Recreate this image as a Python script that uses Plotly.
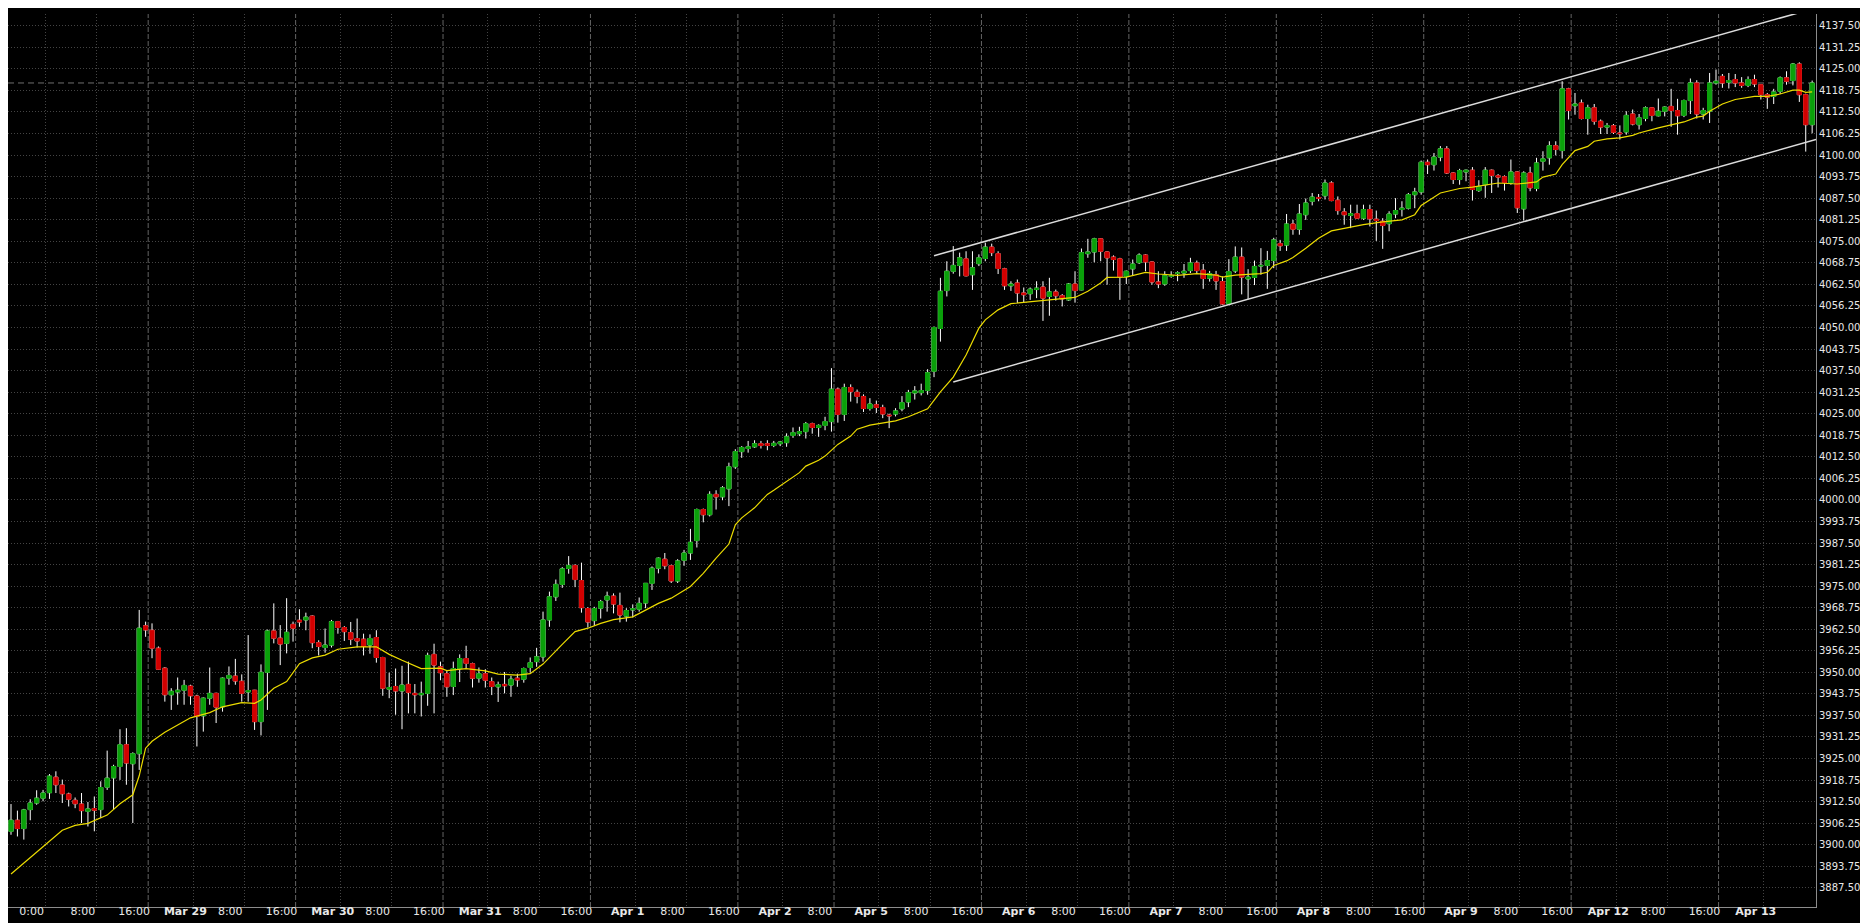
import plotly.graph_objects as go

# ---------------- data ----------------
session_dates = ["Mar 26", "Mar 29", "Mar 30", "Mar 31", "Apr 1", "Apr 2", "Apr 5",
                 "Apr 6", "Apr 7", "Apr 8", "Apr 9", "Apr 12", "Apr 13"]
session_first_hour = [2, 1, 1, 1, 1, 1, 1, 1, 1, 1, 1, 1, 1]
session_bar_count = [22, 23, 23, 23, 23, 15, 23, 23, 23, 23, 23, 23, 15]

opens = [
    3903.9, 3907.1, 3904.7, 3910.2, 3912.1, 3913.5, 3915.1, 3919.6, 3917.3, 3914.7,
    3912.9, 3911.8, 3909.7, 3910.5, 3910.2, 3916.7, 3919.4, 3922.7, 3929.0, 3923.5,
    3926.4, 3963.5, 3962.2, 3957.0, 3951.2, 3943.5, 3944.3, 3944.8, 3946.0, 3943.1,
    3937.4, 3942.5, 3943.9, 3940.0, 3948.3, 3948.9, 3947.4, 3944.3, 3944.8, 3935.7,
    3950.0, 3962.0, 3959.9, 3958.4, 3963.9, 3965.1, 3965.2, 3966.3, 3958.6, 3957.2,
    3957.9, 3964.7, 3963.0, 3961.5, 3959.8, 3959.6, 3957.9, 3960.1, 3954.3, 3945.1,
    3945.9, 3944.6, 3946.5, 3943.9, 3943.5, 3943.9, 3955.2, 3951.6, 3949.6, 3945.9,
    3951.1, 3954.0, 3952.5, 3948.3, 3949.6, 3947.3, 3945.8, 3946.5, 3946.3, 3948.3,
    3948.0, 3951.4, 3953.1, 3954.5, 3965.2, 3971.9, 3975.5, 3980.1, 3981.0, 3976.6,
    3968.5, 3965.0, 3968.6, 3971.0, 3972.1, 3969.4, 3966.3, 3968.1, 3968.3, 3970.1,
    3975.8, 3980.2, 3982.8, 3980.9, 3976.5, 3982.5, 3984.6, 3988.2, 3997.2, 3995.7,
    4001.6, 4000.9, 4003.2, 4009.6, 4014.0, 4014.9, 4015.4, 4016.3, 4016.3, 4015.8,
    4016.3, 4016.6, 4018.7, 4019.2, 4019.8, 4022.1, 4021.0, 4021.6, 4022.7, 4032.1,
    4024.8, 4032.6, 4031.2, 4030.0, 4026.5, 4027.6, 4026.8, 4024.6, 4024.9, 4026.4,
    4028.4, 4031.0, 4031.1, 4031.7, 4037.3, 4049.7, 4060.7, 4066.3, 4068.0, 4069.9,
    4065.3, 4068.5, 4070.0, 4073.3, 4071.4, 4067.0, 4062.1, 4062.9, 4060.0, 4059.8,
    4061.0, 4061.7, 4059.0, 4060.3, 4059.2, 4058.0, 4062.6, 4060.9, 4071.4, 4071.9,
    4075.7, 4071.9, 4070.4, 4069.9, 4064.8, 4067.0, 4068.8, 4071.0, 4069.0, 4063.2,
    4062.6, 4064.8, 4065.7, 4065.8, 4066.5, 4068.7, 4066.6, 4064.3, 4065.3, 4063.3,
    4056.8, 4066.4, 4070.4, 4064.1, 4064.5, 4067.8, 4068.0, 4069.4, 4074.3, 4073.9,
    4080.0, 4078.5, 4082.7, 4086.6, 4087.7, 4088.2, 4091.9, 4086.9, 4083.5, 4082.5,
    4083.0, 4081.7, 4084.2, 4081.4, 4080.8, 4080.1, 4082.9, 4084.2, 4084.6, 4088.5,
    4089.3, 4097.9, 4097.2, 4099.4, 4101.8, 4094.8, 4092.9, 4095.1, 4095.6, 4089.7,
    4091.4, 4095.6, 4094.0, 4093.7, 4091.9, 4095.1, 4084.4, 4094.8, 4090.3, 4098.2,
    4099.2, 4102.7, 4101.3, 4119.2, 4114.3, 4115.1, 4110.6, 4113.7, 4109.8, 4108.1,
    4108.5, 4106.4, 4106.7, 4111.9, 4108.8, 4110.6, 4113.7, 4111.4, 4112.7, 4114.1,
    4112.9, 4111.5, 4115.8, 4120.9, 4111.9, 4112.7, 4120.9, 4122.8, 4121.1, 4121.9,
    4120.9, 4120.2, 4121.9, 4120.4, 4117.5, 4117.0, 4118.5, 4122.4, 4121.6, 4126.4,
    4117.5, 4108.8,
]
highs = [
    3911.8, 3909.9, 3910.4, 3913.2, 3915.8, 3915.9, 3920.5, 3921.3, 3918.9, 3915.1,
    3913.7, 3915.0, 3912.4, 3914.0, 3918.4, 3927.3, 3923.2, 3933.5, 3933.8, 3926.8,
    3968.1, 3964.7, 3964.2, 3957.5, 3951.5, 3945.4, 3948.5, 3947.8, 3946.4, 3943.5,
    3942.7, 3951.4, 3944.1, 3948.5, 3951.7, 3953.9, 3949.4, 3960.8, 3944.9, 3952.3,
    3962.4, 3970.0, 3963.7, 3971.5, 3964.7, 3968.3, 3967.3, 3966.5, 3959.3, 3962.7,
    3965.2, 3964.9, 3963.4, 3964.6, 3965.6, 3961.2, 3961.0, 3962.2, 3954.5, 3949.9,
    3951.1, 3951.9, 3953.1, 3946.6, 3947.3, 3955.7, 3958.3, 3953.1, 3950.4, 3953.1,
    3955.2, 3957.7, 3952.8, 3951.4, 3950.9, 3948.5, 3947.3, 3950.1, 3949.0, 3949.6,
    3951.4, 3954.3, 3957.1, 3967.6, 3973.4, 3976.9, 3980.5, 3983.7, 3981.3, 3981.8,
    3968.9, 3969.0, 3971.0, 3973.4, 3972.9, 3973.1, 3968.6, 3969.7, 3971.7, 3975.9,
    3980.7, 3983.3, 3984.6, 3981.2, 3982.8, 3985.5, 3991.6, 3997.5, 3997.5, 4002.5,
    4002.8, 4004.0, 4010.8, 4014.7, 4015.6, 4017.1, 4017.3, 4017.1, 4017.3, 4017.1,
    4017.1, 4019.3, 4021.0, 4021.2, 4022.6, 4022.4, 4021.9, 4024.1, 4038.2, 4032.6,
    4033.7, 4033.5, 4032.0, 4030.6, 4029.5, 4028.8, 4027.6, 4025.0, 4026.6, 4030.1,
    4031.9, 4033.0, 4033.7, 4037.9, 4050.3, 4064.4, 4069.2, 4073.6, 4071.7, 4072.1,
    4072.1, 4071.2, 4074.6, 4074.3, 4072.1, 4067.3, 4063.4, 4063.9, 4061.6, 4061.6,
    4063.4, 4063.4, 4064.4, 4061.0, 4059.7, 4062.9, 4066.3, 4072.9, 4075.7, 4076.0,
    4075.9, 4072.1, 4070.9, 4070.2, 4066.5, 4069.7, 4071.5, 4071.2, 4069.2, 4066.3,
    4066.3, 4066.3, 4066.3, 4068.4, 4070.2, 4069.4, 4068.4, 4066.4, 4066.4, 4064.8,
    4069.8, 4073.5, 4073.2, 4066.9, 4069.4, 4073.0, 4072.2, 4076.0, 4075.4, 4082.9,
    4081.2, 4085.8, 4087.4, 4089.0, 4088.7, 4092.9, 4092.4, 4088.0, 4084.6, 4085.6,
    4085.6, 4085.6, 4085.6, 4083.9, 4081.7, 4083.7, 4087.5, 4086.6, 4089.0, 4090.5,
    4098.4, 4098.7, 4100.6, 4102.6, 4102.6, 4095.0, 4096.0, 4095.8, 4096.5, 4092.7,
    4096.5, 4095.8, 4094.5, 4094.1, 4098.7, 4095.3, 4095.3, 4096.6, 4099.2, 4101.1,
    4104.0, 4104.0, 4121.4, 4119.5, 4118.0, 4116.1, 4114.6, 4114.8, 4110.3, 4109.3,
    4109.0, 4108.6, 4112.7, 4113.2, 4111.9, 4114.1, 4113.9, 4116.4, 4114.1, 4119.2,
    4116.3, 4116.1, 4122.2, 4121.7, 4113.7, 4123.8, 4124.8, 4123.5, 4123.8, 4123.5,
    4122.6, 4122.8, 4123.3, 4120.6, 4118.0, 4119.2, 4122.8, 4124.3, 4126.7, 4126.9,
    4117.8, 4121.6,
]
lows = [
    3902.9, 3902.4, 3901.5, 3907.1, 3911.6, 3912.6, 3913.3, 3915.0, 3912.1, 3911.1,
    3910.6, 3906.3, 3905.3, 3903.9, 3907.8, 3915.9, 3910.2, 3918.8, 3917.4, 3906.3,
    3921.7, 3960.3, 3954.1, 3950.7, 3941.5, 3939.1, 3940.6, 3940.6, 3940.6, 3928.5,
    3932.8, 3940.6, 3935.3, 3938.6, 3946.4, 3946.4, 3941.5, 3941.5, 3933.3, 3931.7,
    3939.1, 3958.4, 3952.1, 3955.5, 3958.9, 3963.2, 3962.2, 3957.0, 3954.9, 3955.7,
    3957.2, 3961.2, 3959.1, 3957.9, 3957.2, 3954.9, 3955.4, 3952.8, 3943.2, 3942.5,
    3937.7, 3933.5, 3938.1, 3938.1, 3937.2, 3940.3, 3938.1, 3947.7, 3942.9, 3943.4,
    3947.2, 3951.1, 3945.6, 3947.0, 3945.6, 3943.4, 3941.4, 3943.9, 3942.9, 3945.8,
    3947.0, 3949.9, 3951.6, 3953.1, 3963.2, 3970.7, 3974.5, 3978.6, 3974.7, 3967.3,
    3963.0, 3963.5, 3965.6, 3967.6, 3967.1, 3964.5, 3964.7, 3965.9, 3967.6, 3968.6,
    3973.9, 3978.7, 3979.9, 3975.9, 3975.9, 3980.9, 3982.6, 3986.2, 3993.5, 3995.2,
    3997.2, 3999.9, 3998.2, 4009.0, 4012.2, 4013.7, 4015.1, 4014.9, 4014.4, 4015.3,
    4015.6, 4015.4, 4018.0, 4018.5, 4017.8, 4019.2, 4018.3, 4020.2, 4019.8, 4022.4,
    4022.9, 4028.5, 4028.0, 4025.5, 4025.9, 4025.2, 4023.7, 4020.8, 4024.2, 4025.7,
    4026.9, 4029.1, 4030.3, 4030.5, 4035.6, 4045.9, 4059.0, 4065.6, 4064.8, 4064.8,
    4060.9, 4067.8, 4069.2, 4070.7, 4065.5, 4060.9, 4060.6, 4057.1, 4057.3, 4058.0,
    4058.5, 4051.9, 4053.4, 4057.8, 4056.1, 4057.7, 4057.2, 4060.8, 4070.2, 4068.9,
    4069.2, 4062.4, 4066.5, 4058.0, 4062.6, 4065.1, 4068.4, 4066.3, 4062.4, 4061.4,
    4062.1, 4064.4, 4063.4, 4064.4, 4065.8, 4065.5, 4061.2, 4063.3, 4060.9, 4056.5,
    4056.5, 4065.8, 4059.6, 4058.2, 4062.3, 4065.3, 4061.2, 4067.2, 4072.2, 4072.2,
    4076.9, 4076.9, 4081.2, 4085.4, 4086.6, 4087.1, 4086.6, 4082.7, 4079.8, 4078.8,
    4081.5, 4081.2, 4079.3, 4075.1, 4072.8, 4077.9, 4081.7, 4082.2, 4084.2, 4084.6,
    4088.5, 4094.5, 4095.5, 4098.2, 4094.5, 4091.6, 4091.4, 4092.4, 4086.8, 4089.3,
    4087.6, 4089.0, 4090.6, 4089.7, 4091.4, 4083.2, 4081.0, 4089.5, 4089.5, 4095.5,
    4097.2, 4099.9, 4099.0, 4110.3, 4111.7, 4110.3, 4105.9, 4108.8, 4106.1, 4106.1,
    4106.1, 4104.5, 4105.9, 4108.6, 4107.4, 4109.8, 4109.8, 4111.2, 4111.2, 4108.2,
    4105.9, 4111.0, 4111.9, 4110.6, 4110.3, 4109.3, 4120.4, 4119.5, 4119.3, 4119.7,
    4119.5, 4119.7, 4119.7, 4116.1, 4113.4, 4114.8, 4117.7, 4120.4, 4120.2, 4115.4,
    4101.0, 4106.3,
]
closes = [
    3907.1, 3904.7, 3910.1, 3912.1, 3913.5, 3915.0, 3919.9, 3917.4, 3914.8, 3913.2,
    3911.9, 3909.9, 3910.4, 3910.0, 3916.6, 3919.3, 3922.7, 3929.0, 3923.7, 3926.4,
    3962.8, 3962.3, 3957.0, 3950.9, 3943.5, 3944.5, 3944.8, 3946.2, 3943.2, 3937.2,
    3942.5, 3943.9, 3939.9, 3948.3, 3949.1, 3947.5, 3943.9, 3944.7, 3935.7, 3950.0,
    3962.0, 3959.9, 3958.2, 3961.6, 3962.8, 3964.6, 3966.0, 3958.6, 3957.5, 3957.9,
    3964.7, 3963.0, 3961.8, 3959.6, 3959.1, 3957.5, 3959.8, 3954.3, 3945.4, 3945.6,
    3944.6, 3946.3, 3944.2, 3943.5, 3943.9, 3954.9, 3952.1, 3949.9, 3945.8, 3951.1,
    3954.0, 3952.6, 3948.3, 3949.6, 3947.7, 3945.9, 3946.4, 3946.1, 3948.0, 3947.8,
    3951.1, 3952.8, 3954.5, 3965.2, 3971.9, 3975.5, 3980.0, 3981.0, 3976.9, 3968.75,
    3964.6, 3968.5, 3970.5, 3972.1, 3969.8, 3966.6, 3967.9, 3968.4, 3970.0, 3975.8,
    3980.2, 3983.1, 3980.9, 3976.5, 3982.3, 3984.6, 3987.7, 3997.2, 3995.7, 4001.6,
    4000.9, 4003.5, 4009.6, 4014.0, 4015.2, 4015.4, 4016.3, 4015.8, 4015.8, 4016.4,
    4016.8, 4018.3, 4019.5, 4019.8, 4022.1, 4021.0, 4021.6, 4022.7, 4032.1, 4024.8,
    4032.6, 4031.4, 4030.0, 4026.5, 4027.8, 4026.8, 4024.9, 4024.4, 4025.8, 4028.2,
    4031.1, 4031.6, 4031.7, 4036.9, 4050.0, 4060.5, 4066.3, 4068.0, 4070.2, 4065.0,
    4067.3, 4070.2, 4073.3, 4071.7, 4067.1, 4062.1, 4062.6, 4060.0, 4059.5, 4061.1,
    4061.4, 4058.5, 4060.3, 4059.2, 4058.3, 4062.6, 4060.7, 4071.7, 4071.9, 4075.7,
    4072.1, 4070.2, 4069.7, 4064.6, 4066.3, 4068.4, 4071.0, 4069.0, 4063.2, 4062.6,
    4065.0, 4065.0, 4065.8, 4066.3, 4068.7, 4066.5, 4064.2, 4065.6, 4063.5, 4056.8,
    4066.2, 4070.4, 4064.6, 4064.6, 4067.7, 4068.0, 4069.4, 4075.4, 4073.7, 4080.0,
    4078.5, 4082.9, 4086.1, 4087.8, 4087.5, 4091.9, 4086.8, 4083.9, 4082.7, 4083.0,
    4081.7, 4084.2, 4081.5, 4081.0, 4079.6, 4082.9, 4083.9, 4084.6, 4088.5, 4089.3,
    4097.9, 4097.2, 4099.4, 4101.8, 4094.8, 4092.9, 4095.5, 4095.6, 4090.0, 4090.9,
    4095.6, 4094.1, 4093.6, 4092.0, 4095.1, 4084.7, 4094.8, 4090.5, 4097.7, 4098.9,
    4102.7, 4101.6, 4119.2, 4112.9, 4114.8, 4110.6, 4113.7, 4109.8, 4108.1, 4108.5,
    4106.6, 4106.2, 4111.5, 4109.0, 4110.8, 4113.7, 4111.5, 4112.7, 4113.9, 4112.9,
    4111.4, 4115.8, 4120.9, 4111.9, 4112.9, 4120.9, 4121.4, 4120.9, 4121.6, 4120.9,
    4120.2, 4121.9, 4120.6, 4117.5, 4116.8, 4118.3, 4122.4, 4121.4, 4126.4, 4117.5,
    4108.8, 4120.9,
]

# moving average (yellow line), read at these bars
ma_bar = [0, 5, 8, 10, 12, 15, 17, 19, 20, 21, 22, 24, 26, 28, 31, 33, 36, 38, 39, 41,
          43, 45, 47, 49, 51, 54, 57, 59, 61, 64, 67, 68, 71, 74, 76, 79, 81, 83, 86, 88,
          90, 92, 94, 97, 101, 103, 106, 108, 110, 112, 113, 114, 116, 118, 119, 121, 123,
          124, 126, 127, 129, 131, 132, 134, 136, 138, 140, 143, 145, 147, 149, 150, 151,
          152, 154, 156, 159, 162, 166, 168, 170, 171, 174, 177, 179, 182, 185, 188, 189,
          191, 195, 196, 197, 199, 200, 202, 204, 206, 208, 211, 214, 217, 219, 220, 223,
          226, 228, 230, 232, 235, 238, 239, 241, 242, 244, 246, 247, 249, 251, 253, 254,
          257, 259, 261, 263, 264, 265, 267, 269, 272, 274, 276, 278, 279, 280, 281]
ma_value = [3891.5, 3899.4, 3904.2, 3905.6, 3906.2, 3908.6, 3911.9, 3914.5, 3920.0, 3928.0,
            3930.0, 3932.6, 3934.7, 3936.8, 3938.3, 3940.0, 3941.2, 3941.0, 3942.0, 3945.4,
            3947.3, 3952.5, 3954.2, 3955.0, 3956.7, 3957.4, 3957.4, 3955.2, 3953.5, 3951.1,
            3951.2, 3950.5, 3951.1, 3950.4, 3949.5, 3949.2, 3949.6, 3952.4, 3958.1, 3961.8,
            3962.8, 3964.2, 3965.3, 3966.1, 3970.0, 3971.5, 3974.9, 3978.7, 3983.1, 3987.2,
            3992.8, 3994.8, 3997.7, 4001.6, 4002.8, 4005.4, 4007.9, 4009.8, 4011.5, 4012.7,
            4016.1, 4018.5, 4020.5, 4021.7, 4022.2, 4022.9, 4024.1, 4026.4, 4031.3, 4035.6,
            4042.0, 4045.9, 4049.8, 4052.2, 4055.1, 4056.9, 4057.5, 4058.0, 4058.7, 4060.5,
            4062.9, 4064.5, 4064.6, 4066.0, 4065.5, 4065.1, 4065.6, 4065.2, 4064.6, 4065.2,
            4065.6, 4066.0, 4068.0, 4069.3, 4070.3, 4073.0, 4075.9, 4078.0, 4078.8, 4079.8,
            4080.6, 4081.2, 4082.7, 4085.4, 4089.0, 4090.3, 4090.7, 4091.2, 4091.9, 4091.6,
            4092.2, 4093.6, 4094.5, 4097.2, 4101.3, 4102.5, 4104.0, 4104.7, 4105.0, 4105.7,
            4106.4, 4107.9, 4108.8, 4109.6, 4111.0, 4111.3, 4112.7, 4114.8, 4116.1, 4117.0,
            4117.0, 4117.7, 4118.8, 4118.8, 4118.2, 4118.3]

# equidistant channel: two anchor points of the upper line + anchor of the parallel line
channel_bars = [144, 232]
channel_prices = [4070.8, 4116.75]
channel_parallel_bar = 147
channel_parallel_price = 4034.2

# time-axis labels
tick_dates = ["Mar 26", "Mar 26", "Mar 26",
              "Mar 29", "Mar 29", "Mar 29",
              "Mar 30", "Mar 30", "Mar 30",
              "Mar 31", "Mar 31", "Mar 31",
              "Apr 1", "Apr 1", "Apr 1",
              "Apr 2", "Apr 2",
              "Apr 5", "Apr 5", "Apr 5",
              "Apr 6", "Apr 6", "Apr 6",
              "Apr 7", "Apr 7", "Apr 7",
              "Apr 8", "Apr 8", "Apr 8",
              "Apr 9", "Apr 9", "Apr 9",
              "Apr 12", "Apr 12", "Apr 12",
              "Apr 13"]
tick_hours = [0, 8, 16,
              1, 8, 16,
              1, 8, 16,
              1, 8, 16,
              1, 8, 16,
              1, 8,
              1, 8, 16,
              1, 8, 16,
              1, 8, 16,
              1, 8, 16,
              1, 8, 16,
              1, 8, 16,
              1]
tick_text = ["0:00", "8:00", "16:00",
             "<b>Mar 29</b>", "8:00", "16:00",
             "<b>Mar 30</b>", "8:00", "16:00",
             "<b>Mar 31</b>", "8:00", "16:00",
             "<b>Apr 1</b>", "8:00", "16:00",
             "<b>Apr 2</b>", "8:00",
             "<b>Apr 5</b>", "8:00", "16:00",
             "<b>Apr 6</b>", "8:00", "16:00",
             "<b>Apr 7</b>", "8:00", "16:00",
             "<b>Apr 8</b>", "8:00", "16:00",
             "<b>Apr 9</b>", "8:00", "16:00",
             "<b>Apr 12</b>", "8:00", "16:00",
             "<b>Apr 13</b>"]
grid_hours = [8, 16]

# ---------------- derived positions ----------------
session_start = []
acc = 0
for n in session_bar_count:
    session_start.append(acc)
    acc += n
n_bars = len(closes)
bars = list(range(n_bars))


def bar_index(date, hour):
    s = session_dates.index(date)
    return session_start[s] + hour - session_first_hour[s]


LABEL_SHIFT = 5.2     # label text sits right of its bar
LINE_SHIFT = -0.6     # grid / separator lines sit just left of bar
X_MIN, X_MAX = -0.47, 281.6

tick_vals = [bar_index(d, h) + LABEL_SHIFT for d, h in zip(tick_dates, tick_hours)]

grid_vals = []
for s, d in enumerate(session_dates):
    for h in grid_hours:
        if session_first_hour[s] <= h < session_first_hour[s] + session_bar_count[s]:
            grid_vals.append(bar_index(d, h) + LINE_SHIFT)

separator_vals = [session_start[s] + LINE_SHIFT for s in range(1, len(session_dates))]

body_hi = [max(o, c) for o, c in zip(opens, closes)]
body_lo = [min(o, c) for o, c in zip(opens, closes)]

GREEN = "#0aa00a"
RED = "#d20000"

fig = go.Figure()

# wicks (white)
fig.add_trace(go.Candlestick(
    x=bars, open=opens, high=highs, low=lows, close=closes,
    increasing=dict(line=dict(color="#ffffff", width=1), fillcolor="#ffffff"),
    decreasing=dict(line=dict(color="#ffffff", width=1), fillcolor="#ffffff"),
    whiskerwidth=0, hoverinfo="skip", showlegend=False,
))
# bodies (green / red)
fig.add_trace(go.Candlestick(
    x=bars, open=opens, high=body_hi, low=body_lo, close=closes,
    increasing=dict(line=dict(color=GREEN, width=1), fillcolor=GREEN),
    decreasing=dict(line=dict(color=RED, width=1), fillcolor=RED),
    whiskerwidth=0, hoverinfo="skip", showlegend=False,
))

# moving average
fig.add_trace(go.Scatter(
    x=ma_bar, y=ma_value, mode="lines",
    line=dict(color="#ecdc00", width=1.2), hoverinfo="skip", showlegend=False,
))

# channel lines (rays extended to right edge)
slope = (channel_prices[1] - channel_prices[0]) / (channel_bars[1] - channel_bars[0])
up_x = [channel_bars[0], X_MAX]
up_y = [channel_prices[0], channel_prices[0] + slope * (X_MAX - channel_bars[0])]
lo_x = [channel_parallel_bar, X_MAX]
lo_y = [channel_parallel_price, channel_parallel_price + slope * (X_MAX - channel_parallel_bar)]
for xs, ys in ((up_x, up_y), (lo_x, lo_y)):
    fig.add_trace(go.Scatter(
        x=xs, y=ys, mode="lines", line=dict(color="#dcdcdc", width=1.5),
        hoverinfo="skip", showlegend=False,
    ))

shapes = []
for v in separator_vals:
    shapes.append(dict(type="line", xref="x", yref="paper", x0=v, x1=v, y0=0, y1=1,
                       line=dict(color="#646464", width=1, dash="5px,2px"), layer="below"))
# bid line
shapes.append(dict(type="line", xref="paper", yref="y", x0=0, x1=1,
                   y0=closes[-1], y1=closes[-1],
                   line=dict(color="#6e6e6e", width=1, dash="6px,4px"), layer="below"))

fig.update_layout(
    width=1868, height=923,
    margin=dict(l=0, r=60, t=6, b=24, autoexpand=False),
    paper_bgcolor="#000000", plot_bgcolor="#000000",
    font=dict(family="DejaVu Sans", color="#e8e8e8"),
    showlegend=False, hovermode=False,
    boxgap=0.35, boxgroupgap=0,
    shapes=shapes,
    xaxis=dict(
        range=[X_MIN, X_MAX], rangeslider=dict(visible=False),
        tickmode="array", tickvals=tick_vals, ticktext=tick_text,
        showgrid=False, zeroline=False, ticks="", automargin=False,
        ticklabelstandoff=-6,
        tickfont=dict(size=11, color="#e8e8e8", family="DejaVu Sans"),
        showline=True, linecolor="#8c8c8c", linewidth=1,
        minor=dict(tickmode="array", tickvals=grid_vals, showgrid=True,
                   gridcolor="#444444", griddash="1px,2px", gridwidth=1, ticks=""),
    ),
    yaxis=dict(
        side="right", range=[3881.95, 4140.9], automargin=False,
        tickmode="linear", tick0=3887.5, dtick=6.25, tickformat=".2f",
        showgrid=True, gridcolor="#444444", griddash="1px,2px", gridwidth=1,
        zeroline=False, ticks="",
        tickfont=dict(size=10, color="#e8e8e8", family="DejaVu Sans"),
        showline=True, linecolor="#8c8c8c", linewidth=1,
    ),
)

fig.write_html("out.html")
